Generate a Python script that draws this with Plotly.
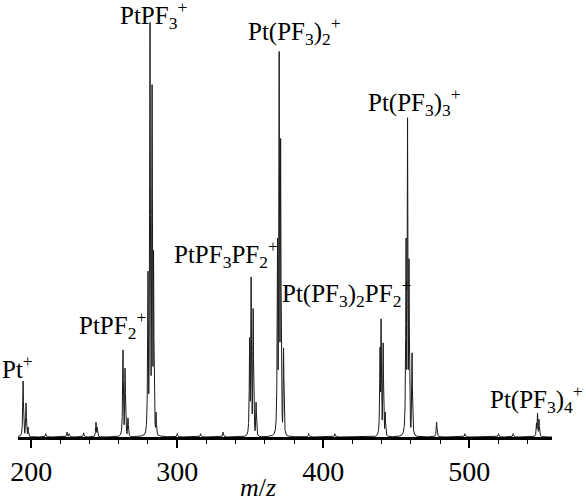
import numpy as np
import plotly.graph_objects as go

# ---- data: peak centres (m/z) and relative intensities ----
peak_mz = [194.5, 196.5, 197.9,
           210.0, 224.6, 226.0, 236.0, 244.4, 245.2,
           262.9, 264.3, 266.3,
           280.0, 281.4, 282.8, 283.8, 285.5,
           300.0, 316.0, 331.4,
           349.6, 350.6, 352.0, 354.0,
           368.7, 369.8, 370.8, 372.8,
           390.0, 408.0,
           438.9, 439.6, 441.0, 442.4,
           456.7, 457.7, 458.7, 460.8,
           477.6, 497.0, 520.0, 530.0,
           546.0, 546.7, 547.7]
peak_int = [13.5, 8.2, 2.4,
            0.8, 1.2, 0.8, 1.0, 3.6, 2.4,
            21.0, 16.6, 4.6,
            40.0, 100.0, 85.0, 45.0, 6.0,
            0.8, 0.8, 1.2,
            24.0, 38.6, 31.0, 8.4,
            48.0, 93.0, 72.0, 21.5,
            0.8, 0.8,
            21.7, 28.5, 22.7, 6.0,
            48.0, 77.0, 43.0, 20.3,
            3.6, 0.8, 0.8, 0.8,
            3.4, 5.8, 4.3]

x_ticks = [200, 300, 400, 500]

ion_labels = ["Pt<sup>+</sup>",
              "PtPF<sub>2</sub><sup>+</sup>",
              "PtPF<sub>3</sub><sup>+</sup>",
              "PtPF<sub>3</sub>PF<sub>2</sub><sup>+</sup>",
              "Pt(PF<sub>3</sub>)<sub>2</sub><sup>+</sup>",
              "Pt(PF<sub>3</sub>)<sub>2</sub>PF<sub>2</sub><sup>+</sup>",
              "Pt(PF<sub>3</sub>)<sub>3</sub><sup>+</sup>",
              "Pt(PF<sub>3</sub>)<sub>4</sub><sup>+</sup>"]

SERIF = "Liberation Serif, Times New Roman, Times, serif"

# ---- layout geometry ----
W, H = 586, 504
ML, MR, MT, MB = 18, 34, 10, 67
XR = [191.0, 556.6]
YR = [0, 103]
pw = W - ML - MR
ph = H - MT - MB

def px2p(px):
    return (px - ML) / pw

def py2p(py):
    return (H - MB - py) / ph

# ---- spectrum profile from the peak list (Lorentzian line shape, max envelope) ----
gamma = 0.3
grid = np.unique(np.concatenate([np.arange(XR[0], XR[1], 0.04), np.array(peak_mz)]))
pm = np.array(peak_mz)[:, None]
pi = np.array(peak_int)[:, None]
prof = (pi * gamma**2 / ((grid[None, :] - pm) ** 2 + gamma**2)).max(axis=0)

fig = go.Figure()
fig.add_trace(go.Scatter(x=grid, y=prof, mode="lines",
                         line=dict(color="#1a1a1a", width=1), hoverinfo="skip",
                         showlegend=False))

# label anchor x / vertical centres in pixels
label_pos = [(0, 367, "left"), (77, 325, "left"), (118, 15, "left"), (172, 254, "left"),
             (246, 31, "left"), (280, 293, "left"), (366, 102, "left"), (585, 399, "right")]
for txt, (lx, ly, anc) in zip(ion_labels, label_pos):
    fig.add_annotation(x=px2p(lx), y=py2p(ly), xref="paper", yref="paper", text=txt,
                       showarrow=False, xanchor=anc, yanchor="middle",
                       font=dict(family=SERIF, size=25, color="black"))

fig.add_annotation(x=px2p(258), y=py2p(488), xref="paper", yref="paper", text="<i>m</i>/<i>z</i>",
                   showarrow=False, xanchor="center", yanchor="middle",
                   font=dict(family=SERIF, size=26, color="black"))

fig.update_layout(
    width=W, height=H,
    margin=dict(l=ML, r=MR, t=MT, b=MB, pad=0, autoexpand=False),
    plot_bgcolor="white", paper_bgcolor="white",
    xaxis=dict(range=XR, showgrid=False, zeroline=False, showline=True,
               linecolor="black", linewidth=2.5, automargin=False,
               tickmode="array", tickvals=x_ticks, ticktext=[str(v) for v in x_ticks],
               ticks="outside", ticklen=8, tickwidth=1.5, tickcolor="black",
               minor=dict(dtick=20, tick0=0, ticks="outside", ticklen=4, tickwidth=1, tickcolor="black"),
               tickfont=dict(family=SERIF, size=28, color="black")),
    yaxis=dict(range=YR, visible=False, showgrid=False, zeroline=False, automargin=False),
)

fig.write_html("out.html", config={"displayModeBar": False},
               post_script="document.body.style.margin='0px';document.body.style.overflow='hidden';")
